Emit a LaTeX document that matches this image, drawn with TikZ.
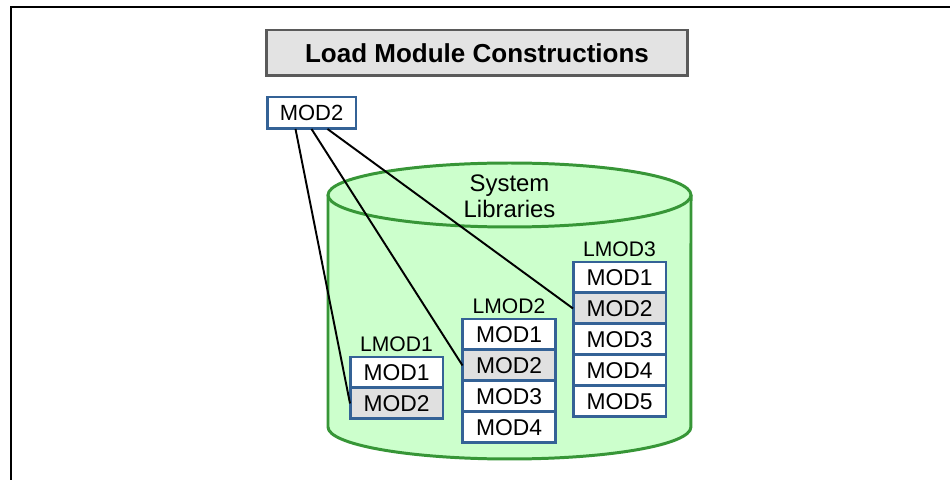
\documentclass[tikz,border=0pt]{standalone}
\usepackage{fontspec}
\setmainfont{Liberation Sans}
\usetikzlibrary{positioning}

\begin{document}
\begin{tikzpicture}[x=0.02cm,y=0.02cm,
    modbox/.style={draw=colBox,line width=1.7pt,fill=white,minimum width=1.86cm,
      minimum height=0.62cm,inner sep=0pt,outer sep=0pt,font=\fontsize{13}{15}\selectfont},
    hlbox/.style={modbox,fill=colHl},
    libname/.style={inner sep=0pt,font=\fontsize{12}{14}\selectfont},
    link/.style={black,line width=1.1pt}]
  \definecolor{colBox}  {RGB}{ 52, 98,150}
  \definecolor{colHl}   {RGB}{224,224,224}
  \definecolor{colCylF} {RGB}{204,255,204}
  \definecolor{colCylD} {RGB}{ 55,150, 55}
  \definecolor{colTitle}{RGB}{227,227,227}
  \definecolor{colTitleD}{RGB}{ 90, 90, 90}
  \useasboundingbox (0,0) rectangle (950,480);
  % frame
  \draw[line width=1.1pt] (11,0) -- (11,473) -- (950,473);
  % title
  \node[draw=colTitleD,fill=colTitle,line width=1.7pt,minimum width=8.44cm,minimum height=0.92cm,
    font=\fontsize{14.8}{17}\selectfont\bfseries] (title) at (477,427) {Load Module Constructions};
  % library cylinder
  \fill[colCylF] (328,285) -- (328,53) arc[start angle=180,end angle=360,x radius=3.63cm,y radius=0.64cm]
    -- (691,285) arc[start angle=0,end angle=180,x radius=3.63cm,y radius=0.64cm] -- cycle;
  \draw[colCylD,line width=1.7pt] (328,285) -- (328,53)
    arc[start angle=180,end angle=360,x radius=3.63cm,y radius=0.64cm] -- (691,285);
  \draw[colCylD,line width=1.7pt,fill=colCylF] (509.5,285) ellipse[x radius=3.63cm,y radius=0.64cm];
  \node[align=center,inner sep=0pt,font=\fontsize{13.6}{14.7}\selectfont] (syslib) at (509.5,284) {System\\Libraries};
  % the module that is linked in
  \node[modbox,minimum width=1.78cm,minimum height=0.64cm,font=\fontsize{12.5}{15}\selectfont] (mod) at (311.5,367) {MOD2};
  % LMOD1
  \node[modbox,anchor=north] (l1a) at (396.5,123) {MOD1};
  \node[hlbox,below=0pt of l1a] (l1b) {MOD2};
  \node[libname,above=0.1cm of l1a] (l1) {LMOD1};
  % LMOD2
  \node[modbox,anchor=north] (l2a) at (509,161) {MOD1};
  \node[hlbox,below=0pt of l2a] (l2b) {MOD2};
  \node[modbox,below=0pt of l2b] (l2c) {MOD3};
  \node[modbox,below=0pt of l2c] (l2d) {MOD4};
  \node[libname,above=0.1cm of l2a] (l2) {LMOD2};
  % LMOD3
  \node[modbox,anchor=north] (l3a) at (619.5,218) {MOD1};
  \node[hlbox,below=0pt of l3a] (l3b) {MOD2};
  \node[modbox,below=0pt of l3b] (l3c) {MOD3};
  \node[modbox,below=0pt of l3c] (l3d) {MOD4};
  \node[modbox,below=0pt of l3d] (l3e) {MOD5};
  \node[libname,above=0.1cm of l3a] (l3) {LMOD3};
  % links
  \draw[link] ([xshift=-0.32cm]mod.south) -- (l1b.west);
  \draw[link] (mod.south) -- (l2b.west);
  \draw[link] ([xshift=0.32cm]mod.south) -- (l3b.west);
\end{tikzpicture}
\end{document}
